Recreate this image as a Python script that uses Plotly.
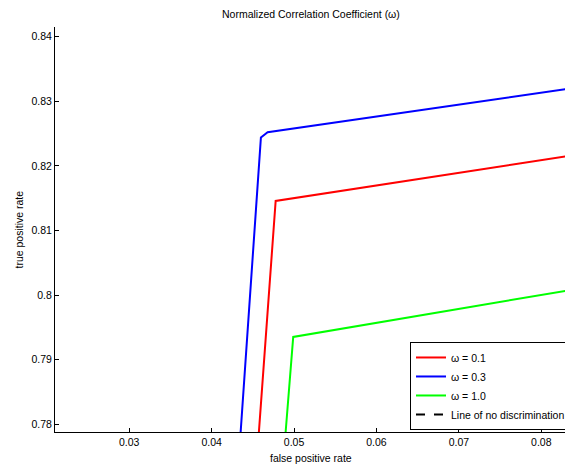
import plotly.graph_objects as go

# ROC curve data (false positive rate, true positive rate)
fpr_w01 = [0.04569, 0.04777, 0.0836]
tpr_w01 = [0.7780, 0.81457, 0.8216]

fpr_w03 = [0.04348, 0.04598, 0.0468, 0.0836]
tpr_w03 = [0.7780, 0.8244, 0.8252, 0.8320]

fpr_w10 = [0.04893, 0.0499, 0.0836]
tpr_w10 = [0.7780, 0.79351, 0.8008]

fpr_nodisc = [0.0, 1.0]
tpr_nodisc = [0.0, 1.0]

x_ticks = [0.03, 0.04, 0.05, 0.06, 0.07, 0.08]
x_tick_labels = ["0.03", "0.04", "0.05", "0.06", "0.07", "0.08"]
y_ticks = [0.78, 0.79, 0.80, 0.81, 0.82, 0.83, 0.84]
y_tick_labels = ["0.78", "0.79", "0.8", "0.81", "0.82", "0.83", "0.84"]

font_family = "Liberation Sans, Arial, Helvetica, sans-serif"

fig = go.Figure()
fig.add_trace(go.Scatter(x=fpr_w01, y=tpr_w01, mode="lines", name="ω = 0.1",
                         line=dict(color="#FF0000", width=2)))
fig.add_trace(go.Scatter(x=fpr_w03, y=tpr_w03, mode="lines", name="ω = 0.3",
                         line=dict(color="#0000FF", width=2)))
fig.add_trace(go.Scatter(x=fpr_w10, y=tpr_w10, mode="lines", name="ω = 1.0",
                         line=dict(color="#00FF00", width=2)))
fig.add_trace(go.Scatter(x=fpr_nodisc, y=tpr_nodisc, mode="lines", name="Line of no discrimination",
                         line=dict(color="#000000", width=2, dash="dash")))

# page has an 8px body margin, so the figure is sized to fill the rest of the window
fig.update_layout(
    width=565, height=457,
    margin=dict(l=47, r=2, t=19, b=33, autoexpand=False),
    paper_bgcolor="white", plot_bgcolor="white",
    font=dict(family=font_family, size=10.5, color="#000000"),
    showlegend=True,
    legend=dict(x=1.0, xanchor="right", y=0.005, yanchor="bottom",
                bgcolor="white", bordercolor="#000000", borderwidth=1,
                font=dict(size=10.5), tracegroupgap=0, itemwidth=30),
    annotations=[
        dict(text="Normalized Correlation Coefficient (ω)", xref="paper", yref="paper",
             x=0.497, y=1.0, yshift=13, xanchor="center", yanchor="middle",
             showarrow=False, font=dict(size=10.5)),
        dict(text="false positive rate", xref="paper", yref="paper",
             x=0.497, y=0.0, yshift=-26, xanchor="center", yanchor="middle",
             showarrow=False, font=dict(size=10.5)),
        dict(text="true positive rate", xref="paper", yref="paper",
             x=0.0, xshift=-37, y=0.5, xanchor="center", yanchor="middle",
             textangle=-90, showarrow=False, font=dict(size=10.5)),
    ],
)
fig.update_xaxes(range=[0.0210, 0.0836], tickvals=x_ticks, ticktext=x_tick_labels,
                 showgrid=False, zeroline=False, showline=True, linecolor="#000000",
                 linewidth=1, ticks="inside", ticklen=4, tickcolor="#000000",
                 automargin=False)
fig.update_yaxes(range=[0.7788, 0.8415], tickvals=y_ticks, ticktext=y_tick_labels,
                 showgrid=False, zeroline=False, showline=True, linecolor="#000000",
                 linewidth=1, ticks="inside", ticklen=4, tickcolor="#000000",
                 automargin=False)

fig.write_html("out.html")
